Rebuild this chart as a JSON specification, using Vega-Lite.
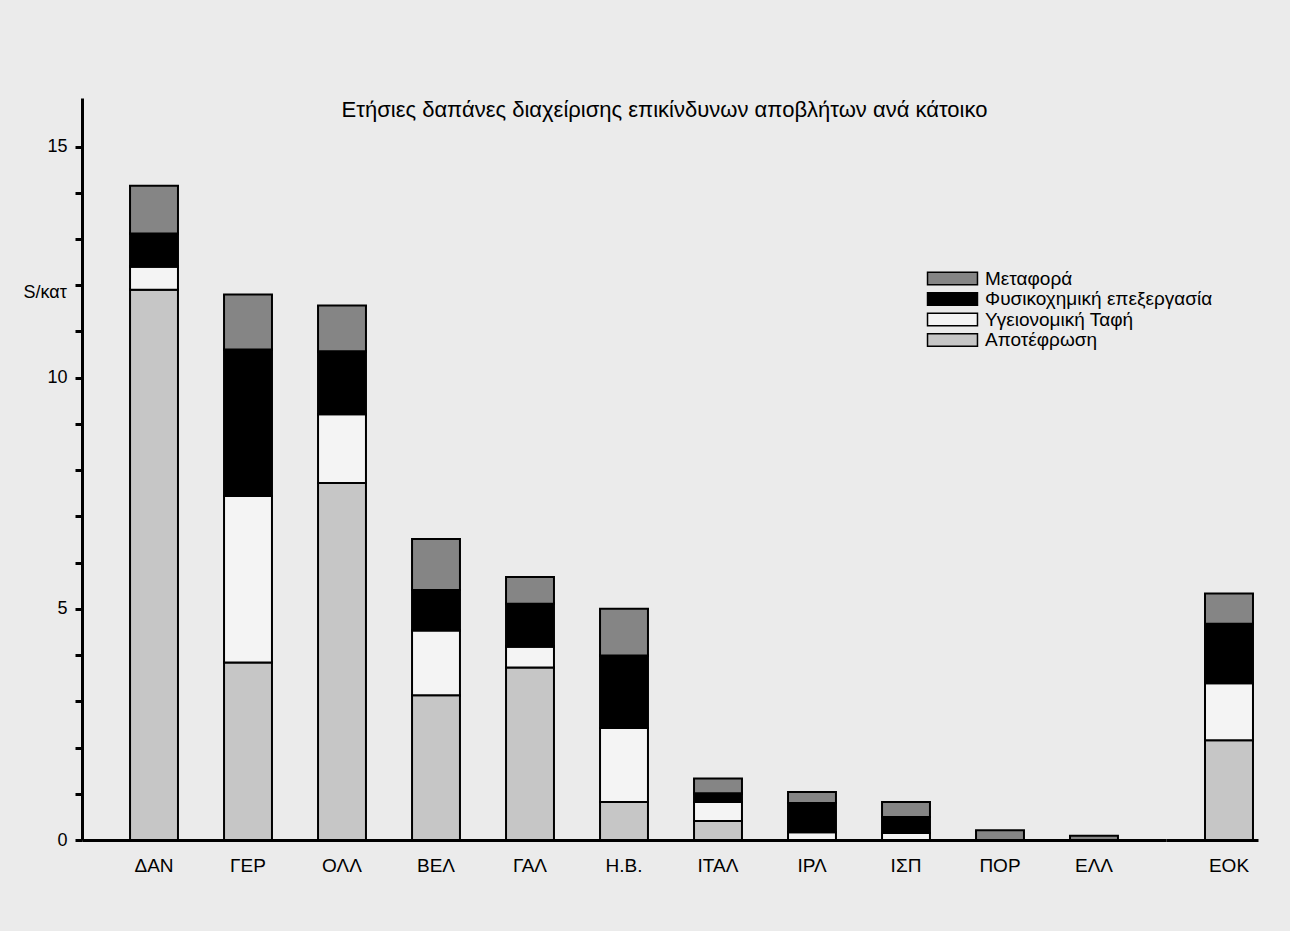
{
  "$schema": "https://vega.github.io/schema/vega-lite/v6.json",
  "autosize": {"type": "pad"},
  "padding": {"left": 23, "top": 98, "right": 40, "bottom": 70},
  "background": "#ebebeb",
  "data": {
    "values": [
      {"country": "ΔΑΝ", "type": "Αποτέφρωση", "value": 11.9},
      {"country": "ΔΑΝ", "type": "Υγειονομική Ταφή", "value": 0.5},
      {"country": "ΔΑΝ", "type": "Φυσικοχημική επεξεργασία", "value": 0.72},
      {"country": "ΔΑΝ", "type": "Μεταφορά", "value": 1.03},
      {"country": "ΓΕΡ", "type": "Αποτέφρωση", "value": 3.84},
      {"country": "ΓΕΡ", "type": "Υγειονομική Ταφή", "value": 3.6},
      {"country": "ΓΕΡ", "type": "Φυσικοχημική επεξεργασία", "value": 3.17},
      {"country": "ΓΕΡ", "type": "Μεταφορά", "value": 1.19},
      {"country": "ΟΛΛ", "type": "Αποτέφρωση", "value": 7.72},
      {"country": "ΟΛΛ", "type": "Υγειονομική Ταφή", "value": 1.49},
      {"country": "ΟΛΛ", "type": "Φυσικοχημική επεξεργασία", "value": 1.36},
      {"country": "ΟΛΛ", "type": "Μεταφορά", "value": 0.99},
      {"country": "ΒΕΛ", "type": "Αποτέφρωση", "value": 3.13},
      {"country": "ΒΕΛ", "type": "Υγειονομική Ταφή", "value": 1.4},
      {"country": "ΒΕΛ", "type": "Φυσικοχημική επεξεργασία", "value": 0.88},
      {"country": "ΒΕΛ", "type": "Μεταφορά", "value": 1.1},
      {"country": "ΓΑΛ", "type": "Αποτέφρωση", "value": 3.73},
      {"country": "ΓΑΛ", "type": "Υγειονομική Ταφή", "value": 0.45},
      {"country": "ΓΑΛ", "type": "Φυσικοχημική επεξεργασία", "value": 0.93},
      {"country": "ΓΑΛ", "type": "Μεταφορά", "value": 0.58},
      {"country": "Η.Β.", "type": "Αποτέφρωση", "value": 0.82},
      {"country": "Η.Β.", "type": "Υγειονομική Ταφή", "value": 1.6},
      {"country": "Η.Β.", "type": "Φυσικοχημική επεξεργασία", "value": 1.57},
      {"country": "Η.Β.", "type": "Μεταφορά", "value": 1.01},
      {"country": "ΙΤΑΛ", "type": "Αποτέφρωση", "value": 0.41},
      {"country": "ΙΤΑΛ", "type": "Υγειονομική Ταφή", "value": 0.41},
      {"country": "ΙΤΑΛ", "type": "Φυσικοχημική επεξεργασία", "value": 0.19},
      {"country": "ΙΤΑΛ", "type": "Μεταφορά", "value": 0.32},
      {"country": "ΙΡΛ", "type": "Αποτέφρωση", "value": 0},
      {"country": "ΙΡΛ", "type": "Υγειονομική Ταφή", "value": 0.17},
      {"country": "ΙΡΛ", "type": "Φυσικοχημική επεξεργασία", "value": 0.63},
      {"country": "ΙΡΛ", "type": "Μεταφορά", "value": 0.24},
      {"country": "ΙΣΠ", "type": "Αποτέφρωση", "value": 0},
      {"country": "ΙΣΠ", "type": "Υγειονομική Ταφή", "value": 0.15},
      {"country": "ΙΣΠ", "type": "Φυσικοχημική επεξεργασία", "value": 0.35},
      {"country": "ΙΣΠ", "type": "Μεταφορά", "value": 0.32},
      {"country": "ΠΟΡ", "type": "Μεταφορά", "value": 0.21},
      {"country": "ΕΛΛ", "type": "Μεταφορά", "value": 0.09},
      {"country": "ΕΟΚ", "type": "Αποτέφρωση", "value": 2.16},
      {"country": "ΕΟΚ", "type": "Υγειονομική Ταφή", "value": 1.23},
      {"country": "ΕΟΚ", "type": "Φυσικοχημική επεξεργασία", "value": 1.29},
      {"country": "ΕΟΚ", "type": "Μεταφορά", "value": 0.65}
    ]
  },
  "transform": [
    {"calculate": "indexof(['Αποτέφρωση','Υγειονομική Ταφή','Φυσικοχημική επεξεργασία','Μεταφορά'], datum.type)", "as": "stackOrder"}
  ],
  "spacing": 0,
  "hconcat": [
    {
      "width": 1084,
      "height": 742,
      "transform": [{"filter": "datum.country !== 'ΕΟΚ'"}],
      "mark": {"type": "bar", "stroke": "#000000", "strokeWidth": 2},
      "encoding": {
        "x": {
          "field": "country",
          "type": "nominal",
          "sort": ["ΔΑΝ", "ΓΕΡ", "ΟΛΛ", "ΒΕΛ", "ΓΑΛ", "Η.Β.", "ΙΤΑΛ", "ΙΡΛ", "ΙΣΠ", "ΠΟΡ", "ΕΛΛ"],
          "scale": {"paddingInner": 0.49, "paddingOuter": 0.511},
          "axis": {
            "labelAngle": 0,
            "ticks": false,
            "tickSize": 0,
            "labelPadding": 16,
            "labelFontSize": 19,
            "title": "Ετήσιες δαπάνες διαχείρισης επικίνδυνων αποβλήτων ανά κάτοικο",
            "titleX": 582,
            "titleY": -724,
            "titleAlign": "center",
            "titleBaseline": "alphabetic",
            "titleFontSize": 22,
            "titleLimit": 1000
          }
        },
        "y": {
          "field": "value",
          "type": "quantitative",
          "stack": "zero",
          "scale": {"domain": [0, 16.05], "nice": false},
          "axis": {
            "values": [0, 1, 2, 3, 4, 5, 6, 7, 8, 9, 10, 11, 12, 13, 14, 15],
            "labelExpr": "datum.value % 5 === 0 ? datum.label : ''",
            "grid": false,
            "tickSize": 7,
            "tickWidth": 3,
            "labelPadding": 8,
            "labelFontSize": 18,
            "title": "S/κατ",
            "titleAngle": 0,
            "titleX": -59,
            "titleY": 194,
            "titleAlign": "left",
            "titleBaseline": "middle",
            "titleFontSize": 18
          }
        },
        "color": {
          "field": "type",
          "type": "nominal",
          "scale": {
            "domain": ["Μεταφορά", "Φυσικοχημική επεξεργασία", "Υγειονομική Ταφή", "Αποτέφρωση"],
            "range": ["#858585", "#000000", "#f4f4f4", "#c6c6c6"]
          },
          "legend": {
            "title": null,
            "orient": "none",
            "legendX": 861,
            "legendY": 171,
            "symbolType": "M-4,-1H4V1H-4Z",
            "symbolSize": 156,
            "symbolStrokeColor": "#000000",
            "symbolStrokeWidth": 1.5,
            "symbolOpacity": 1,
            "labelFontSize": 19,
            "labelOffset": 23,
            "rowPadding": 0.5,
            "labelLimit": 400
          }
        },
        "order": {"field": "stackOrder", "type": "quantitative"}
      }
    },
    {
      "width": 92,
      "height": 742,
      "transform": [{"filter": "datum.country === 'ΕΟΚ'"}],
      "mark": {"type": "bar", "stroke": "#000000", "strokeWidth": 2},
      "encoding": {
        "x": {
          "field": "country",
          "type": "nominal",
          "scale": {"paddingInner": 0.49, "paddingOuter": 0.234, "align": 0.886},
          "axis": {"title": null, "labelAngle": 0, "ticks": false, "tickSize": 0, "labelPadding": 16, "labelFontSize": 19}
        },
        "y": {
          "field": "value",
          "type": "quantitative",
          "stack": "zero",
          "scale": {"domain": [0, 16.05], "nice": false},
          "axis": null
        },
        "color": {
          "field": "type",
          "type": "nominal",
          "scale": {
            "domain": ["Μεταφορά", "Φυσικοχημική επεξεργασία", "Υγειονομική Ταφή", "Αποτέφρωση"],
            "range": ["#858585", "#000000", "#f4f4f4", "#c6c6c6"]
          }
        },
        "order": {"field": "stackOrder", "type": "quantitative"}
      }
    }
  ],
  "resolve": {"scale": {"y": "shared", "color": "shared"}, "legend": {"color": "shared"}},
  "config": {
    "font": "Liberation Sans",
    "view": {"stroke": null},
    "axis": {
      "domainColor": "#000000",
      "domainWidth": 3,
      "tickColor": "#000000",
      "labelColor": "#000000",
      "titleColor": "#000000",
      "titleFontWeight": "normal",
      "labelFont": "Liberation Sans",
      "titleFont": "Liberation Sans"
    },
    "legend": {
      "labelColor": "#000000",
      "labelFont": "Liberation Sans"
    }
  }
}
